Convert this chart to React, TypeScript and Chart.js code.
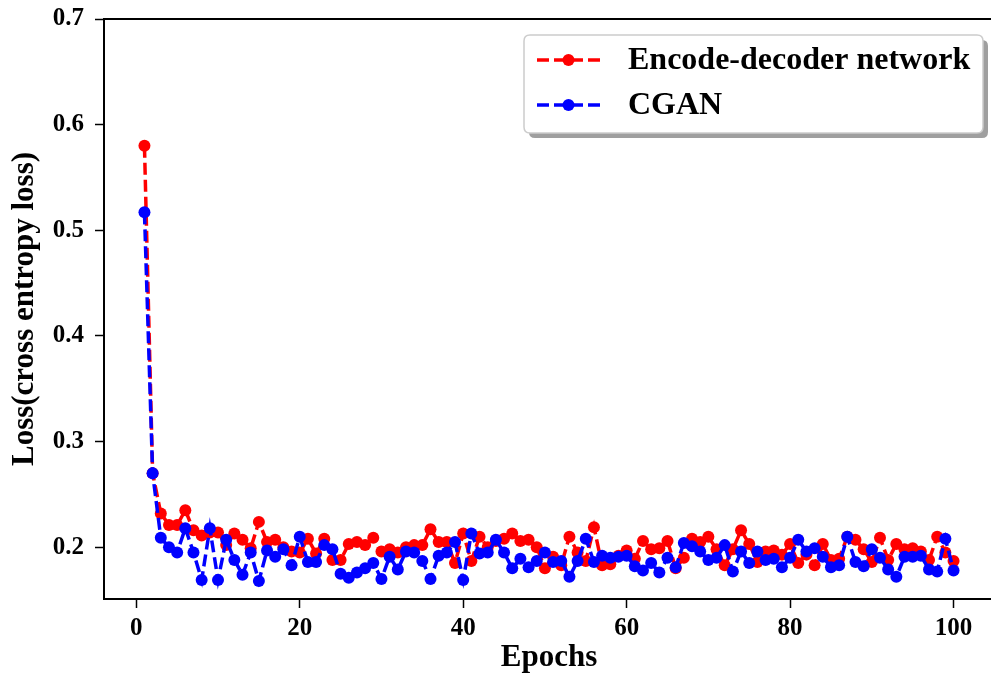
import React, { useEffect, useRef } from "react";
import { Chart, registerables } from "chart.js";

Chart.register(...registerables);

const epochs = [
  1, 2, 3, 4, 5, 6, 7, 8, 9, 10, 11, 12, 13, 14, 15, 16, 17, 18, 19, 20,
  21, 22, 23, 24, 25, 26, 27, 28, 29, 30, 31, 32, 33, 34, 35, 36, 37, 38, 39, 40,
  41, 42, 43, 44, 45, 46, 47, 48, 49, 50, 51, 52, 53, 54, 55, 56, 57, 58, 59, 60,
  61, 62, 63, 64, 65, 66, 67, 68, 69, 70, 71, 72, 73, 74, 75, 76, 77, 78, 79, 80,
  81, 82, 83, 84, 85, 86, 87, 88, 89, 90, 91, 92, 93, 94, 95, 96, 97, 98, 99, 100,
];

const encoderDecoderLoss = [
  0.58, 0.27, 0.232, 0.221, 0.221, 0.235, 0.216, 0.211, 0.214, 0.214,
  0.202, 0.213, 0.207, 0.199, 0.224, 0.205, 0.207, 0.2, 0.196, 0.195,
  0.208, 0.194, 0.208, 0.188, 0.188, 0.203, 0.205, 0.202, 0.209, 0.196,
  0.198, 0.195, 0.2, 0.202, 0.202, 0.217, 0.205, 0.205, 0.185, 0.213,
  0.187, 0.21, 0.2, 0.206, 0.208, 0.213, 0.206, 0.207, 0.2, 0.18,
  0.191, 0.183, 0.21, 0.195, 0.187, 0.219, 0.183, 0.184, 0.192, 0.197,
  0.189, 0.206, 0.198, 0.199, 0.206, 0.18, 0.19, 0.208, 0.205, 0.21,
  0.198, 0.183, 0.198, 0.216, 0.203, 0.186, 0.196, 0.197, 0.193, 0.203,
  0.185, 0.193, 0.183, 0.203, 0.188, 0.189, 0.21, 0.207, 0.198, 0.186,
  0.209, 0.188, 0.203, 0.198, 0.199, 0.196, 0.188, 0.21, 0.195, 0.187,
];

const cganLoss = [
  0.517, 0.27, 0.209, 0.2, 0.195, 0.218, 0.195, 0.169, 0.218, 0.169,
  0.207, 0.188, 0.174, 0.195, 0.168, 0.197, 0.191, 0.198, 0.183, 0.21,
  0.186, 0.186, 0.202, 0.198, 0.175, 0.171, 0.176, 0.18, 0.185, 0.17,
  0.191, 0.179, 0.196, 0.195, 0.187, 0.17, 0.192, 0.195, 0.205, 0.169,
  0.213, 0.194, 0.195, 0.207, 0.195, 0.18, 0.189, 0.181, 0.187, 0.195,
  0.186, 0.187, 0.172, 0.187, 0.208, 0.186, 0.192, 0.19, 0.191, 0.192,
  0.182, 0.178, 0.185, 0.176, 0.19, 0.181, 0.204, 0.201, 0.196, 0.188,
  0.19, 0.202, 0.177, 0.196, 0.185, 0.196, 0.188, 0.189, 0.181, 0.19,
  0.207, 0.196, 0.199, 0.191, 0.181, 0.183, 0.21, 0.186, 0.182, 0.198,
  0.19, 0.179, 0.172, 0.191, 0.191, 0.192, 0.179, 0.177, 0.208, 0.178,
];

const seriesLabels = ["Encode-decoder network", "CGAN"];
const seriesColors = ["#ff0000", "#0000ff"];
const xTickValues = [0, 20, 40, 60, 80, 100];
const yTickValues = [0.2, 0.3, 0.4, 0.5, 0.6, 0.7];
const xTitle = "Epochs";
const yTitle = "Loss(cross entropy loss)";

const FONT = '"Liberation Serif", "Times New Roman", Times, serif';

const framePlugin = {
  id: "frame",
  afterDraw(chart: any) {
    const { ctx, chartArea } = chart;
    ctx.save();
    ctx.strokeStyle = "#000";
    ctx.lineWidth = 2;
    ctx.beginPath();
    ctx.moveTo(chartArea.left - 1, chartArea.top);
    ctx.lineTo(chartArea.right, chartArea.top);
    ctx.lineTo(chartArea.right, chartArea.bottom);
    ctx.stroke();
    ctx.restore();
  },
};

function roundRect(ctx: CanvasRenderingContext2D, x: number, y: number, w: number, h: number, r: number) {
  ctx.beginPath();
  ctx.moveTo(x + r, y);
  ctx.lineTo(x + w - r, y);
  ctx.quadraticCurveTo(x + w, y, x + w, y + r);
  ctx.lineTo(x + w, y + h - r);
  ctx.quadraticCurveTo(x + w, y + h, x + w - r, y + h);
  ctx.lineTo(x + r, y + h);
  ctx.quadraticCurveTo(x, y + h, x, y + h - r);
  ctx.lineTo(x, y + r);
  ctx.quadraticCurveTo(x, y, x + r, y);
  ctx.closePath();
}

const legendPlugin = {
  id: "boxLegend",
  afterDraw(chart: any) {
    const { ctx, chartArea } = chart;
    const datasets = chart.data.datasets;
    const w = 459;
    const h = 98;
    const x = 524;
    const y = chartArea.top + 16;
    ctx.save();
    ctx.fillStyle = "rgba(80,80,80,0.55)";
    roundRect(ctx, x + 5, y + 5, w, h, 6);
    ctx.fill();
    ctx.fillStyle = "#ffffff";
    roundRect(ctx, x, y, w, h, 6);
    ctx.fill();
    ctx.strokeStyle = "#cccccc";
    ctx.lineWidth = 1.5;
    ctx.stroke();

    const rows = [...datasets].sort((a: any, b: any) => a.legendIndex - b.legendIndex);
    rows.forEach((ds: any, i: number) => {
      const cy = y + 25 + i * 45;
      const lx0 = x + 13;
      const lx1 = x + 76;
      ctx.strokeStyle = ds.borderColor;
      ctx.lineWidth = 3.5;
      ctx.setLineDash([12, 5]);
      ctx.beginPath();
      ctx.moveTo(lx0, cy);
      ctx.lineTo(lx1, cy);
      ctx.stroke();
      ctx.setLineDash([]);
      ctx.fillStyle = ds.borderColor;
      ctx.beginPath();
      ctx.arc((lx0 + lx1) / 2, cy, 6, 0, Math.PI * 2);
      ctx.fill();
      ctx.fillStyle = "#000";
      ctx.font = `bold 32px ${FONT}`;
      ctx.textBaseline = "middle";
      ctx.textAlign = "left";
      ctx.fillText(ds.label, x + 104, cy + 1);
    });
    ctx.restore();
  },
};

export default function App() {
  const canvasRef = useRef<HTMLCanvasElement | null>(null);

  useEffect(() => {
    if (!canvasRef.current) return;
    const makeData = (vals: number[]) => epochs.map((e, i) => ({ x: e, y: vals[i] }));
    const common = {
      borderWidth: 3.5,
      borderDash: [12, 5],
      pointRadius: 6,
      pointHoverRadius: 6,
      pointBorderWidth: 0,
      tension: 0,
      fill: false,
    };
    const chart = new Chart(canvasRef.current, {
      type: "line",
      data: {
        datasets: [
          {
            ...common,
            label: seriesLabels[0],
            legendIndex: 0,
            data: makeData(encoderDecoderLoss),
            borderColor: seriesColors[0],
            backgroundColor: seriesColors[0],
            pointBackgroundColor: seriesColors[0],
            order: 1,
          } as any,
          {
            ...common,
            label: seriesLabels[1],
            legendIndex: 1,
            data: makeData(cganLoss),
            borderColor: seriesColors[1],
            backgroundColor: seriesColors[1],
            pointBackgroundColor: seriesColors[1],
            order: 0,
          } as any,
        ],
      },
      options: {
        responsive: false,
        animation: false,
        layout: { padding: { top: 19, right: 3, left: 0, bottom: 0 } },
        plugins: {
          legend: { display: false },
          tooltip: { enabled: false },
        },
        scales: {
          x: {
            type: "linear",
            min: -3.95,
            max: 104.95,
            afterBuildTicks: (s: any) => {
              s.ticks = xTickValues.map((v) => ({ value: v }));
            },
            afterFit: (s: any) => {
              s.height = 85;
              s.paddingLeft = 0;
              s.paddingRight = 0;
            },
            grid: {
              drawOnChartArea: false,
              drawTicks: true,
              tickLength: 9,
              tickWidth: 1.5,
              tickColor: "#000",
            },
            border: { display: true, color: "#000", width: 2 },
            ticks: {
              color: "#000",
              font: { family: FONT, size: 25, weight: "bold" },
              padding: 6,
              maxRotation: 0,
              autoSkip: false,
              callback: (v: any) => String(v),
            },
            title: {
              display: true,
              text: xTitle,
              color: "#000",
              font: { family: FONT, size: 31, weight: "bold" },
              padding: { top: 0, bottom: 7 },
            },
          },
          y: {
            type: "linear",
            min: 0.151,
            max: 0.7,
            afterBuildTicks: (s: any) => {
              s.ticks = yTickValues.map((v) => ({ value: v }));
            },
            afterFit: (s: any) => {
              s.width = 104;
              s.paddingTop = 0;
              s.paddingBottom = 0;
            },
            grid: {
              drawOnChartArea: false,
              drawTicks: true,
              tickLength: 9,
              tickWidth: 1.5,
              tickColor: "#000",
            },
            border: { display: true, color: "#000", width: 2 },
            ticks: {
              color: "#000",
              font: { family: FONT, size: 25, weight: "bold" },
              padding: 11,
              autoSkip: false,
              callback: (v: any) => Number(v).toFixed(1),
            },
            title: {
              display: true,
              text: yTitle,
              color: "#000",
              font: { family: FONT, size: 31, weight: "bold" },
              padding: { top: 6, bottom: 0 },
            },
          },
        },
      },
      plugins: [framePlugin, legendPlugin],
    });
    return () => chart.destroy();
  }, []);

  return (
    <div
      style={{
        position: "fixed",
        left: 0,
        top: 0,
        width: 991,
        height: 684,
        overflow: "hidden",
        background: "#ffffff",
      }}
    >
      <canvas ref={canvasRef} width={1000} height={684} style={{ display: "block" }} />
    </div>
  );
}
